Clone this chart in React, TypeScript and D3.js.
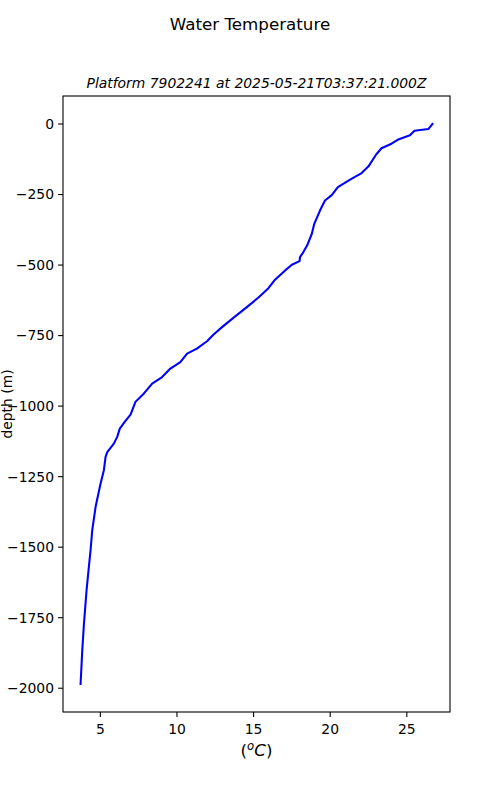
import React from 'react';
import * as d3 from 'd3';

// profile: temperature (°C) and depth (m, negative down)
const temps = [
  26.67, 26.6, 26.4, 25.5, 25.2, 24.4, 24.0, 23.35, 23.0, 22.5, 22.05, 21.3, 20.5, 20.1,
  19.66, 19.34, 18.96, 18.8, 18.5, 18.25, 18.03, 18.0, 17.5, 17.06, 16.4, 15.97, 15.3,
  14.56, 13.8, 12.94, 12.39, 11.96, 11.3, 10.66, 10.22, 9.57, 9.03, 8.38, 7.83, 7.29,
  6.97, 6.6, 6.27, 6.1, 5.88, 5.45, 5.34, 5.23, 5.01, 4.69, 4.47, 4.36, 4.25, 4.1, 3.93,
  3.82, 3.71,
];
const depths = [
  0, -5, -18, -24, -40, -56, -70, -86, -108, -150, -174, -197, -224, -252,
  -271, -306, -354, -389, -430, -454, -472, -486, -499, -519, -552, -582, -616,
  -649, -682, -720, -746, -770, -796, -814, -844, -867, -897, -920, -956, -985,
  -1030, -1055, -1080, -1109, -1133, -1163, -1180, -1227, -1275, -1357, -1440, -1511, -1570, -1652, -1771,
  -1865, -1985,
];
const xTicks = [5, 10, 15, 20, 25];
const yTicks = [0, -250, -500, -750, -1000, -1250, -1500, -1750, -2000];

const title = 'Water Temperature';
const subtitle = 'Platform 7902241 at 2025-05-21T03:37:21.000Z';

const W = 500;
const H = 800;
const box = { left: 63, right: 450, top: 96, bottom: 712 };
const font = 'DejaVu Sans, sans-serif';

function padded(ext: [number, number]): [number, number] {
  const m = (ext[1] - ext[0]) * 0.05;
  return [ext[0] - m, ext[1] + m];
}

export default function App() {
  const points = temps.map((t, i) => ({ t, d: depths[i] }));

  const x = d3.scaleLinear()
    .domain(padded(d3.extent(temps) as [number, number]))
    .range([box.left, box.right]);
  const y = d3.scaleLinear()
    .domain(padded(d3.extent(depths) as [number, number]))
    .range([box.bottom, box.top]);

  const line = d3.line<{ t: number; d: number }>()
    .x(p => x(p.t))
    .y(p => y(p.d));

  const fmt = (v: number) => (v < 0 ? '\u2212' + Math.abs(v) : String(v));
  const cx = (box.left + box.right) / 2;
  const cy = (box.top + box.bottom) / 2;

  return (
    <svg width={W} height={H} style={{ position: 'absolute', left: 0, top: 0, background: '#fff' }}
      fontFamily={font}>
      <rect x={0} y={0} width={W} height={H} fill="#fff" />

      <text x={W / 2} y={30} textAnchor="middle" fontSize={16.7}>{title}</text>
      <text x={cx} y={88} textAnchor="middle" fontSize={13.9} fontStyle="italic">{subtitle}</text>

      <path d={line(points) || ''} fill="none" stroke="#0000ff" strokeWidth={2.08}
        strokeLinejoin="round" strokeLinecap="square" />

      {/* x axis */}
      {xTicks.map(v => (
        <g key={'x' + v} transform={`translate(${x(v)},${box.bottom})`}>
          <line y2={4.9} stroke="#000" strokeWidth={1.1} />
          <text y={22} textAnchor="middle" fontSize={13.9}>{fmt(v)}</text>
        </g>
      ))}
      <text x={cx} y={756} textAnchor="middle" fontSize={16.7}>
        <tspan>(</tspan>
        <tspan fontStyle="italic" fontSize={11.7} dy={-6}>o</tspan>
        <tspan fontStyle="italic" dy={6}>C</tspan>
        <tspan>)</tspan>
      </text>

      {/* y axis */}
      {yTicks.map(v => (
        <g key={'y' + v} transform={`translate(${box.left},${y(v)})`}>
          <line x2={-4.9} stroke="#000" strokeWidth={1.1} />
          <text x={-9} dy="0.35em" textAnchor="end" fontSize={13.9}>{fmt(v)}</text>
        </g>
      ))}
      <text transform={`translate(12,${cy}) rotate(-90)`} textAnchor="middle" fontSize={13.9}>depth (m)</text>

      <rect x={box.left} y={box.top} width={box.right - box.left} height={box.bottom - box.top}
        fill="none" stroke="#000" strokeWidth={1.1} />
    </svg>
  );
}
